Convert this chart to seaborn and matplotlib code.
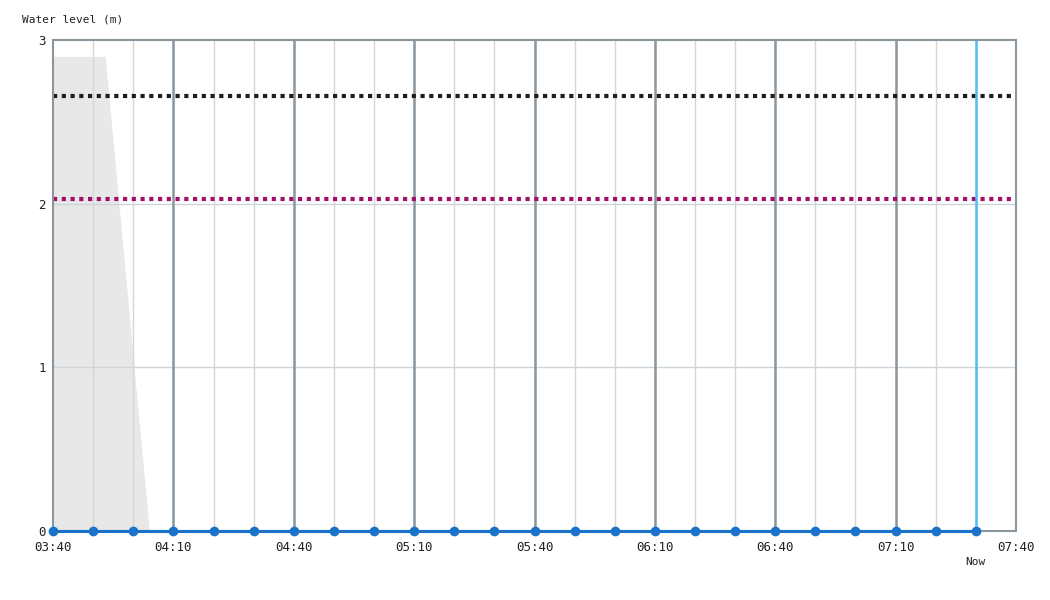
import matplotlib
matplotlib.use("Agg")
import matplotlib.pyplot as plt
import matplotlib.dates as mdates
import seaborn as sns
import pandas as pd

# observations every 10 minutes, 03:40 .. 07:30 (all zero)
obs_times = pd.date_range("2024-01-01 03:40", "2024-01-01 07:30", freq="10min")
obs_levels = [0.0] * len(obs_times)

# grey shaded band (earlier period)
band_times = pd.to_datetime(["2024-01-01 03:40", "2024-01-01 03:53", "2024-01-01 04:04"])
band_levels = [2.9, 2.9, 0.0]

# threshold levels
level_black = 2.66
level_purple = 2.03

now_time = pd.Timestamp("2024-01-01 07:30")
x_start = pd.Timestamp("2024-01-01 03:40")
x_end = pd.Timestamp("2024-01-01 07:40")
y_ticks = [0, 1, 2, 3]

sns.set_theme(style="white")
plt.rcParams["font.family"] = ["DejaVu Sans Mono", "DejaVu Sans"]

fig = plt.figure(figsize=(10.5, 6), dpi=100)
ax = fig.add_axes([0.0505, 0.115, 0.9171, 0.8183])

df = pd.DataFrame({"time": obs_times, "level": obs_levels})

# shaded band goes under the grid
ax.fill_between(band_times, band_levels, 0, color="#e8e8e8", lw=0, zorder=0)

# grid
major = pd.date_range(x_start, x_end, freq="30min")
minor = pd.date_range(x_start, x_end, freq="10min")
for t in minor:
    if t not in major:
        ax.axvline(t, color="#d4d6d8", lw=1, zorder=0.5)
for t in major[1:-1]:
    ax.axvline(t, color="#8a959e", lw=1.8, zorder=1)
for y in y_ticks[1:-1]:
    ax.axhline(y, color="#cdd5dc", lw=1, zorder=0.5)

ax.axhline(level_black, color="#1e1e1e", lw=3, ls=(0, (1, 1.1)), zorder=2)
ax.axhline(level_purple, color="#a0106a", lw=3, ls=(0, (1, 1.1)), zorder=2)
ax.axvline(now_time, color="#4fbef5", lw=1.8, zorder=2)

sns.lineplot(data=df, x="time", y="level", ax=ax, color="#1a73c8", lw=2.2,
             marker="o", markersize=7, markeredgewidth=0, zorder=4, clip_on=False)

ax.set_xlim(x_start, x_end)
ax.set_ylim(0, 3)
ax.set_xticks(major)
ax.xaxis.set_major_formatter(mdates.DateFormatter("%H:%M"))
ax.set_yticks(y_ticks)
ax.tick_params(axis="both", labelsize=9, colors="#222222", length=0, pad=7)
ax.tick_params(axis="y", pad=5)
ax.set_xlabel("")
ax.set_ylabel("")

for side in ["left", "right", "top", "bottom"]:
    ax.spines[side].set_visible(True)
    ax.spines[side].set_color("#8a959e")
    ax.spines[side].set_linewidth(1.5)

fig.text(22 / 1050, 1 - 20 / 600, "Water level (m)", fontsize=8, color="#222222",
         va="center", ha="left")
ax.text(now_time, -0.19, "Now", fontsize=8, color="#222222", ha="center", va="center")

fig.savefig("out.png", dpi=100)
